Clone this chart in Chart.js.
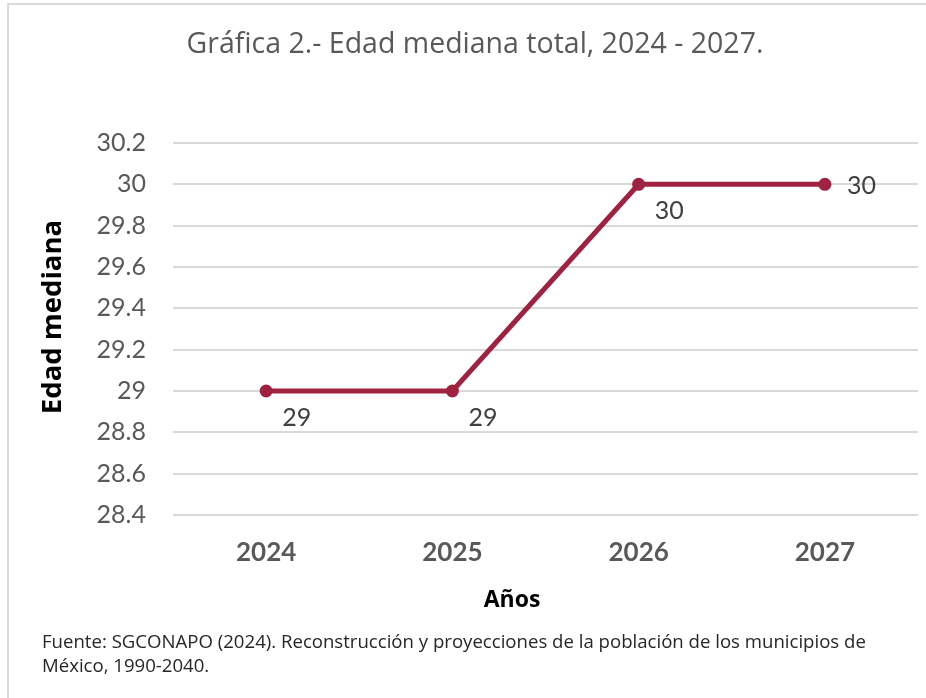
<!DOCTYPE html>
<html>
<head>
<meta charset="utf-8">
<script src="https://cdn.jsdelivr.net/npm/chart.js@4.4.1/dist/chart.umd.min.js"></script>
<style>
  html, body { margin: 0; padding: 0; background: #fff; }
  #wrap { width: 926px; height: 698px; position: relative; }
</style>
</head>
<body>
<div id="wrap"><canvas id="edad"></canvas></div>

<script>
// datos de la gráfica
const titulo = 'Gráfica 2.- Edad mediana total, 2024 - 2027.';
const anios = ['2024', '2025', '2026', '2027'];
const edadMediana = [29, 29, 30, 30];
const yMin = 28.4;
const yMax = 30.2;
const yPaso = 0.2;
const tituloY = 'Edad mediana';
const tituloX = 'Años';
const fuente = [
  'Fuente: SGCONAPO (2024). Reconstrucción y proyecciones de la población de los municipios de',
  'México, 1990-2040.'
];

const FONT = 'Lato, "Open Sans", sans-serif';
const FONT_ANCHA = '"Open Sans", Lato, sans-serif';
const VINO = '#9F2241';

// textos que no son parte de las escalas: título, ejes, fuente y etiquetas de datos
const textos = {
  id: 'textos',
  afterDraw(chart) {
    const ctx = chart.ctx;
    ctx.save();

    // marco gris claro
    ctx.strokeStyle = '#D9D9D9';
    ctx.lineWidth = 2;
    ctx.beginPath();
    ctx.moveTo(8, chart.height);
    ctx.lineTo(8, 4);
    ctx.lineTo(chart.width, 4);
    ctx.stroke();

    // titulo
    ctx.fillStyle = '#595959';
    ctx.font = '28.5px ' + FONT_ANCHA;
    ctx.textAlign = 'center';
    ctx.textBaseline = 'middle';
    ctx.fillText(titulo, 475, 45);

    // titulo eje x
    ctx.fillStyle = '#000';
    ctx.font = 'bold 23px ' + FONT_ANCHA;
    ctx.fillText(tituloX, 512, 600);

    // titulo eje y
    ctx.save();
    ctx.translate(53, 317);
    ctx.rotate(-Math.PI / 2);
    ctx.font = 'bold 27.5px ' + FONT_ANCHA;
    ctx.fillText(tituloY, 0, 0);
    ctx.restore();

    // fuente
    ctx.fillStyle = '#262626';
    ctx.font = '18.6px ' + FONT_ANCHA;
    ctx.textAlign = 'left';
    fuente.forEach((linea, i) => ctx.fillText(linea, 42, 643 + i * 24));

    // etiquetas de datos
    const meta = chart.getDatasetMeta(0);
    ctx.fillStyle = '#404040';
    ctx.font = '25px ' + FONT;
    meta.data.forEach((pt, i) => {
      const ultimo = i === meta.data.length - 1;
      const dx = ultimo ? 22 : 16;
      const dy = ultimo ? 2 : 27;
      ctx.fillText(String(edadMediana[i]), pt.x + dx, pt.y + dy);
    });

    ctx.restore();
  }
};

new Chart(document.getElementById('edad'), {
  type: 'line',
  data: {
    labels: anios,
    datasets: [{
      label: 'Edad mediana',
      data: edadMediana,
      borderColor: VINO,
      backgroundColor: VINO,
      borderWidth: 5,
      pointRadius: 6.5,
      pointHoverRadius: 6.5,
      pointBackgroundColor: VINO,
      pointBorderWidth: 0,
      tension: 0
    }]
  },
  options: {
    responsive: true,
    maintainAspectRatio: false,
    animation: false,
    layout: { padding: { top: 143, right: 8, bottom: 123, left: 0 } },
    plugins: {
      legend: { display: false },
      tooltip: { enabled: false }
    },
    scales: {
      x: {
        offset: true,
        grid: { display: false, drawTicks: false },
        border: { display: false },
        ticks: {
          color: '#595959',
          font: { family: FONT, size: 26, weight: 'bold' },
          padding: 22
        },
        afterFit(s) { s.height = 60; }
      },
      y: {
        min: yMin,
        max: yMax,
        grid: { color: '#D9D9D9', lineWidth: 2, drawTicks: false },
        border: { display: false },
        ticks: {
          stepSize: yPaso,
          color: '#595959',
          font: { family: FONT, size: 25 },
          padding: 27,
          callback: v => String(Number(v.toFixed(1)))
        },
        afterFit(s) { s.width = 173; }
      }
    }
  },
  plugins: [textos]
});
</script>
</body>
</html>
